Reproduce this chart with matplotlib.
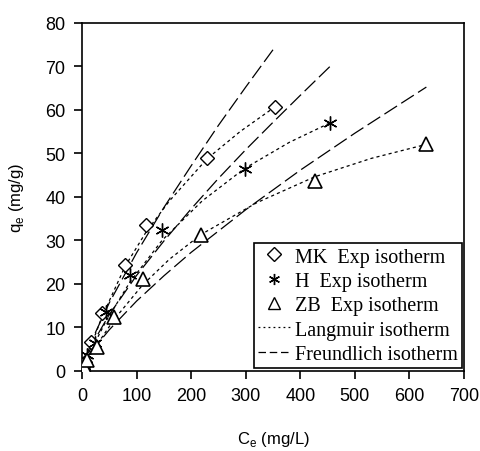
import matplotlib
matplotlib.use("Agg")
import matplotlib.pyplot as plt
from matplotlib.lines import Line2D

# Experimental data (Ce mg/L, qe mg/g)
mk_x = [1, 5, 16, 36, 79, 118, 229, 353]
mk_y = [0.3, 2.0, 6.7, 13.3, 24.3, 33.5, 49.0, 60.6]
h_x = [1, 4, 10, 24, 44, 88, 147, 298, 455]
h_y = [0.3, 1.5, 3.5, 6.4, 13.5, 22.0, 32.3, 46.4, 57.0]
zb_x = [1, 3, 10, 27, 59, 111, 218, 427, 630]
zb_y = [0.3, 1.0, 2.5, 5.5, 12.4, 21.0, 31.2, 43.7, 52.0]

# Langmuir fit curves
lm_mk_x = [0, 16, 36, 79, 118, 160, 229, 290, 353]
lm_mk_y = [0, 5.5, 12.2, 24.0, 32.0, 39.0, 48.7, 55.0, 60.6]
lm_h_x = [0, 24, 44, 88, 147, 220, 298, 380, 455]
lm_h_y = [0, 6.5, 11.4, 20.4, 30.0, 39.0, 46.5, 52.5, 57.0]
lm_zb_x = [0, 27, 59, 111, 160, 218, 320, 427, 530, 630]
lm_zb_y = [0, 5.9, 11.8, 19.7, 25.6, 31.3, 38.6, 44.6, 48.8, 52.0]

# Freundlich fit curves
fr_mk_x = [0, 5, 25, 50, 100, 150, 200, 250, 300, 353]
fr_mk_y = [0, 2.5, 8.9, 15.6, 27.1, 37.5, 47.1, 56.4, 65.2, 74.3]
fr_h_x = [0, 5, 25, 50, 100, 150, 200, 250, 300, 350, 400, 459]
fr_h_y = [0, 2.2, 7.5, 12.9, 21.9, 29.8, 37.2, 44.2, 50.8, 57.1, 63.3, 70.5]
fr_zb_x = [0, 5, 25, 50, 100, 150, 200, 300, 400, 500, 631]
fr_zb_y = [0, 1.7, 5.6, 9.4, 16.0, 21.8, 27.2, 37.0, 46.1, 54.6, 65.2]

xticks = [0, 100, 200, 300, 400, 500, 600, 700]
yticks = [0, 10, 20, 30, 40, 50, 60, 70, 80]

fig = plt.figure(figsize=(4.81, 4.52), dpi=100)
ax = fig.add_axes([0.1705, 0.1777, 0.7942, 0.7699])

lw = 0.9
dot = (0, (2.5, 2.5))
dash = (0, (12, 4))
for xs, ys in [(lm_mk_x, lm_mk_y), (lm_h_x, lm_h_y), (lm_zb_x, lm_zb_y)]:
    ax.plot(xs, ys, color="black", lw=lw, linestyle=dot)
for xs, ys in [(fr_mk_x, fr_mk_y), (fr_h_x, fr_h_y), (fr_zb_x, fr_zb_y)]:
    ax.plot(xs, ys, color="black", lw=lw, linestyle=dash)

ax.plot(mk_x, mk_y, linestyle="none", marker="D", ms=7, mfc="white", mec="black", mew=1.0, zorder=5)
ax.plot(h_x, h_y, linestyle="none", marker=(6, 2, 0), ms=10, mec="black", mew=1.0, zorder=5)
ax.plot(zb_x, zb_y, linestyle="none", marker="^", ms=10, mfc="white", mec="black", mew=1.2, zorder=5)

ax.set_xlim(0, 700)
ax.set_ylim(0, 80)
ax.set_xticks(xticks)
ax.set_yticks(yticks)
tickfont = {"family": "Liberation Sans", "size": 13}
ax.set_xticklabels([str(v) for v in xticks], fontdict=tickfont)
ax.set_yticklabels([str(v) for v in yticks], fontdict=tickfont)
ax.tick_params(direction="out", length=6, width=1.2, colors="black", pad=6)
for s in ax.spines.values():
    s.set_linewidth(1.2)

ax.set_xlabel(r"C$_\mathregular{e}$ (mg/L)", fontsize=12, family="Liberation Sans", labelpad=18)
ax.set_ylabel(r"q$_\mathregular{e}$ (mg/g)", fontsize=12, family="Liberation Sans", labelpad=14)

handles = [
    Line2D([], [], linestyle="none", marker="D", ms=7, mfc="white", mec="black"),
    Line2D([], [], linestyle="none", marker=(6, 2, 0), ms=8, mec="black"),
    Line2D([], [], linestyle="none", marker="^", ms=9, mfc="white", mec="black"),
    Line2D([], [], color="black", lw=lw, linestyle=(0, (1.5, 2.5))),
    Line2D([], [], color="black", lw=lw, linestyle=(0, (6, 3))),
]
labels = ["MK  Exp isotherm", "H  Exp isotherm", "ZB  Exp isotherm",
          "Langmuir isotherm", "Freundlich isotherm"]
leg = ax.legend(handles, labels, loc="lower right", bbox_to_anchor=(0.995, 0.008),
                prop={"family": "Liberation Serif", "size": 14.5},
                frameon=True, fancybox=False, edgecolor="black", framealpha=1,
                handlelength=1.6, handletextpad=0.25, labelspacing=0.26,
                borderpad=0.2, borderaxespad=0.0)
leg.get_frame().set_linewidth(1.2)

fig.savefig("out.png", dpi=100)
